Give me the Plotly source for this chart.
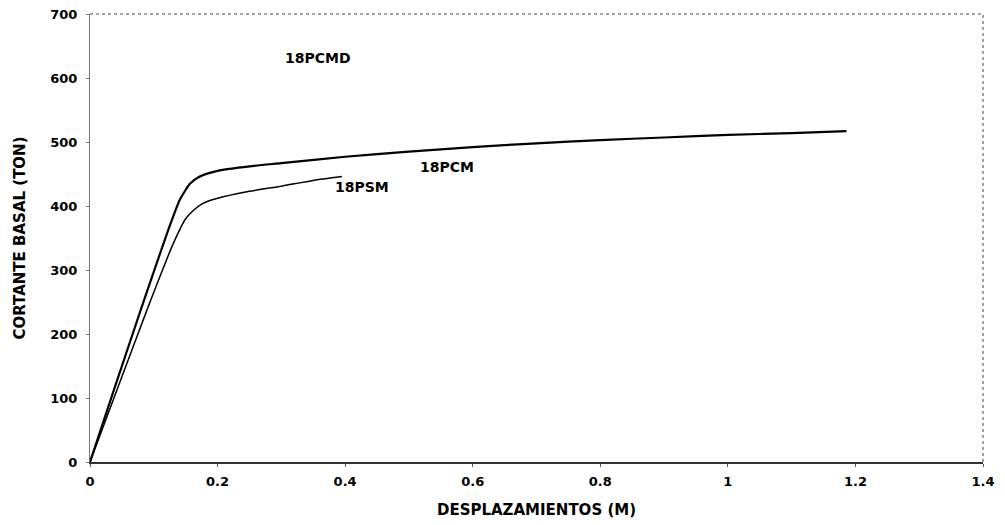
import plotly.graph_objects as go

# Pushover curves: displacement (m) vs base shear (ton)
pcm_x = [0, 0.04, 0.081, 0.12, 0.141, 0.157, 0.17, 0.185, 0.2, 0.25, 0.3, 0.4, 0.5, 0.6, 0.7, 0.8, 0.9, 1.0, 1.1, 1.186]
pcm_y = [0, 120, 242, 355, 410, 435, 445, 451, 455, 462, 467, 477, 485, 492, 498, 503, 507, 511, 514, 517]

psm_x = [0, 0.045, 0.091, 0.13, 0.15, 0.162, 0.175, 0.2, 0.25, 0.3, 0.35, 0.395]
psm_y = [0, 120, 242, 340, 380, 393, 403, 412, 423, 431, 440, 446]

labels = ["18PCMD", "18PCM", "18PSM"]
label_x = [0.357, 0.56, 0.426]
label_y = [631, 461, 430]

x_ticks = [0, 0.2, 0.4, 0.6, 0.8, 1.0, 1.2, 1.4]
x_tick_text = ["0", "0.2", "0.4", "0.6", "0.8", "1", "1.2", "1.4"]
y_ticks = [0, 100, 200, 300, 400, 500, 600, 700]

FAMILY = "DejaVu Sans, Arial"

fig = go.Figure()
fig.add_trace(go.Scatter(x=pcm_x, y=pcm_y, mode="lines",
                         line=dict(color="black", width=2.2, shape="spline", smoothing=0.6), name="18PCM"))
fig.add_trace(go.Scatter(x=psm_x, y=psm_y, mode="lines",
                         line=dict(color="black", width=1.5, shape="spline", smoothing=0.6), name="18PSM"))

for t, lx, ly in zip(labels, label_x, label_y):
    fig.add_annotation(x=lx, y=ly, text="<b>" + t + "</b>", showarrow=False,
                       font=dict(family=FAMILY, size=14, color="black"))

fig.update_layout(
    width=1005, height=525,
    margin=dict(l=90, r=22, t=14, b=63),
    paper_bgcolor="white", plot_bgcolor="white",
    showlegend=False,
    font=dict(family=FAMILY, size=13, color="black"),
    xaxis=dict(range=[0, 1.4], tickvals=x_ticks, ticktext=["<b>" + s + "</b>" for s in x_tick_text],
               showgrid=False, zeroline=False, showline=True, linecolor="#333", linewidth=1.5,
               ticks="outside", ticklen=3, tickcolor="#555", ticklabelstandoff=4, automargin=False,
               title=dict(text="<b>DESPLAZAMIENTOS (M)</b>", font=dict(family=FAMILY, size=15), standoff=16)),
    yaxis=dict(range=[0, 700], tickvals=y_ticks, ticktext=["<b>%d</b>" % v for v in y_ticks],
               showgrid=False, zeroline=False, showline=True, linecolor="#777", linewidth=1.2,
               ticks="outside", ticklen=3, tickcolor="#777", ticklabelstandoff=6, automargin=False,
               title=dict(text="<b>CORTANTE BASAL (TON)</b>", font=dict(family=FAMILY, size=15), standoff=20)),
)

# Dotted frame on top and right sides
fig.add_shape(type="line", xref="paper", yref="paper", x0=0, x1=1, y0=1, y1=1,
              line=dict(color="#444", width=1, dash="dot"))
fig.add_shape(type="line", xref="paper", yref="paper", x0=1, x1=1, y0=0, y1=1,
              line=dict(color="#444", width=1, dash="dot"))

fig.write_html("out.html")
